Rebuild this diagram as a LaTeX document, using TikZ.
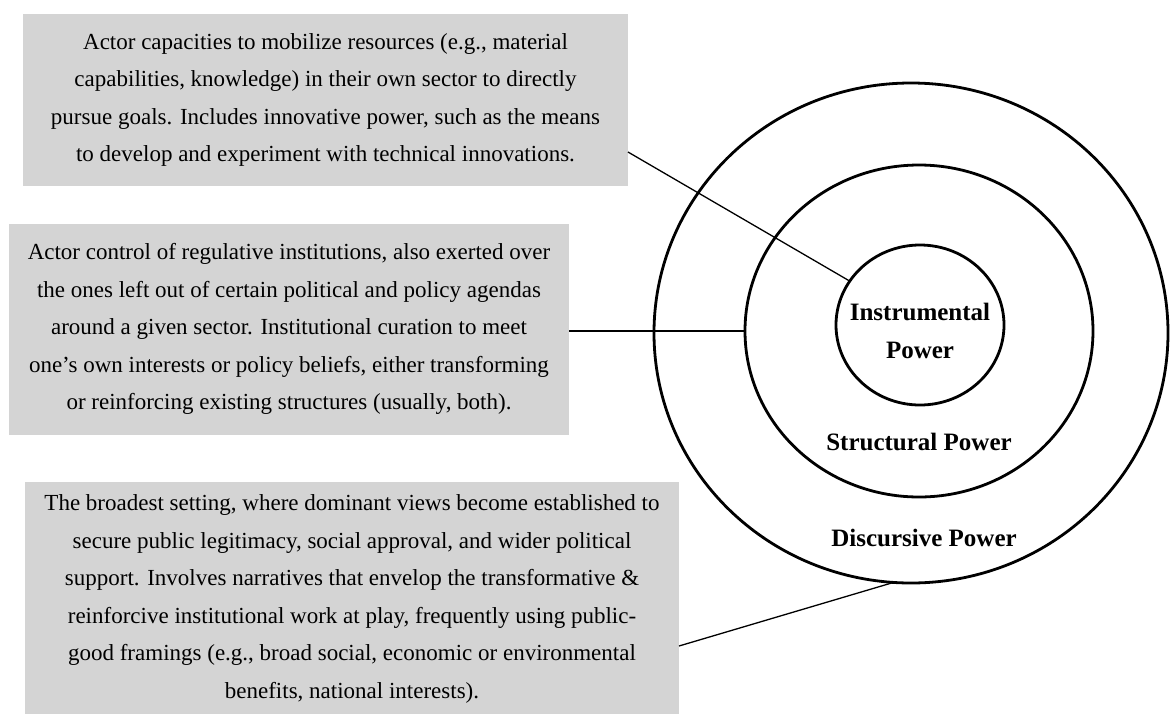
\documentclass[tikz,border=0pt]{standalone}
\usepackage{fontspec}
\setmainfont{Liberation Serif}
\usetikzlibrary{shapes.geometric,calc}
\definecolor{boxgray}{RGB}{212,212,212}
\tikzset{
    every node/.style={inner sep=0pt, outer sep=0pt}
}
\tikzset{
    note/.style={rectangle, fill=boxgray, align=center,
    	font=\fontsize{23}{37.5}\selectfont},
    ring/.style={ellipse, draw, line width=2.8pt},
    power/.style={align=center, font=\bfseries\fontsize{25}{38}\selectfont},
    link/.style={line width=1.3pt}
}

\begin{document}
\begin{tikzpicture}[x=1pt, y=-1pt]
	\useasboundingbox (0,0) rectangle (1170,713);
	% rings
	\node [ring, minimum width=514pt, minimum height=500pt] (disc) at (911,333) {};
	\node [ring, minimum width=348pt, minimum height=332pt] (struct) at (919,331) {};
	\node [ring, minimum width=168pt, minimum height=160pt] (instr) at (920,325) {};
	\node [power] (instrlab) at (920,331) {Instrumental\\Power};
	\node [power] (structlab) at (919,442) {Structural Power};
	\node [power] (disclab) at (924,538) {Discursive Power};
	% notes
	\node [note, minimum width=605pt, minimum height=172pt] (instrnote) at (325.5,100)
		{Actor capacities to mobilize resources (e.g., material\\
		capabilities, knowledge) in their own sector to directly\\
		pursue goals. Includes innovative power, such as the means\\
		to develop and experiment with technical innovations.};
	\node [note, minimum width=560pt, minimum height=211pt] (structnote) at (289,329)
		{Actor control of regulative institutions, also exerted over\\
		the ones left out of certain political and policy agendas\\
		around a given sector. Institutional curation to meet\\
		one’s own interests or policy beliefs, either transforming\\
		or reinforcing existing structures (usually, both).};
	\node [note, minimum width=654pt, minimum height=235pt] (discnote) at (352,599)
		{The broadest setting, where dominant views become established to\\
		secure public legitimacy, social approval, and wider political\\
		support. Involves narratives that envelop the transformative \&\\
		reinforcive institutional work at play, frequently using public-\\
		good framings (e.g., broad social, economic or environmental\\
		benefits, national interests).};
	% links
	\draw [link] ($(instrnote.south east)+(0,-34)$) -- (instr.148);
	\draw [link] (structnote.east |- struct.west) -- (struct.west);
	\draw [link] ($(discnote.east)+(0,47)$) -- (disc.266);
\end{tikzpicture}
\end{document}
